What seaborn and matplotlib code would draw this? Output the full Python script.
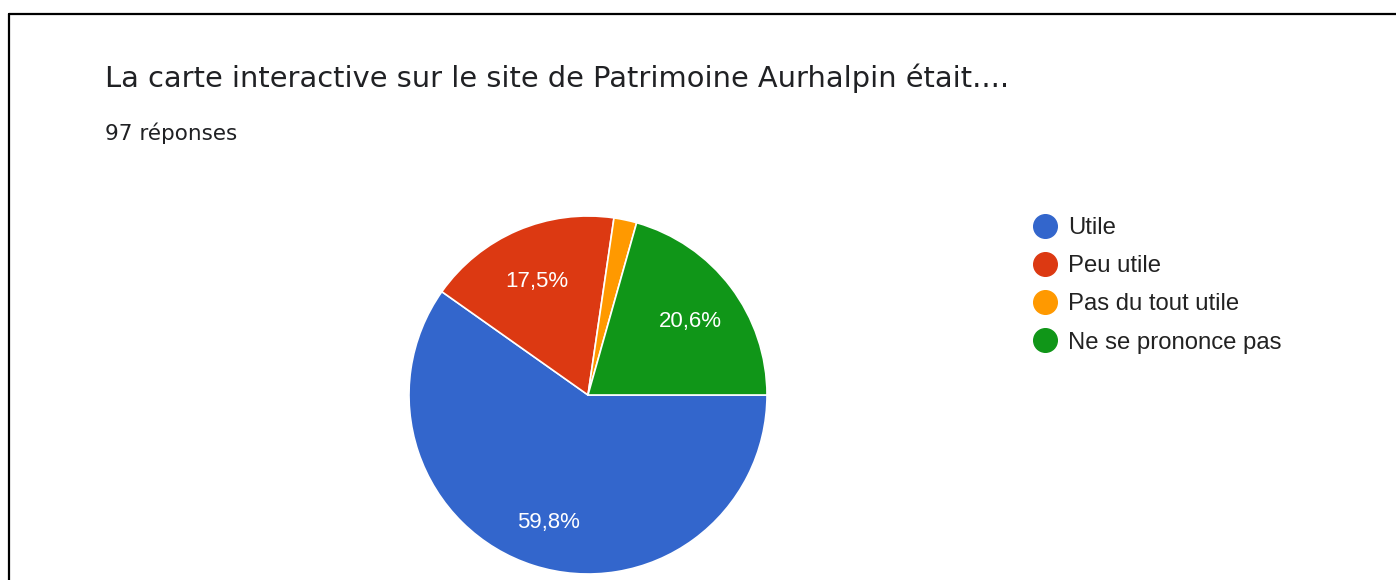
import matplotlib
matplotlib.use("Agg")
import matplotlib.pyplot as plt
from matplotlib.lines import Line2D
import seaborn as sns

# data (97 responses)
labels = ['Utile', 'Peu utile', 'Pas du tout utile', 'Ne se prononce pas']
counts = [58, 17, 2, 20]
colors = ['#3366CC', '#DC3912', '#FF9900', '#109618']
title = 'La carte interactive sur le site de Patrimoine Aurhalpin était....'
subtitle = '97 réponses'

sns.set_theme(style='white')
plt.rcParams['font.family'] = ['Liberation Sans', 'DejaVu Sans']

W, H = 1396, 580
fig = plt.figure(figsize=(W / 100, H / 100), dpi=100)
fig.patch.set_facecolor('white')

# pie: centre (588, 395) px, radius 179 px
cx, cy, r = 588, 395, 179
ax = fig.add_axes([(cx - r) / W, (H - cy - r) / H, 2 * r / W, 2 * r / H])


def pct_fmt(p):
    if p < 5:
        return ''
    return f'{p:.1f}%'.replace('.', ',')


wedges, texts, autotexts = ax.pie(
    counts, colors=colors, startangle=0, counterclock=False,
    autopct=pct_fmt, pctdistance=0.72,
    wedgeprops=dict(edgecolor='white', linewidth=1.2),
    textprops=dict(color='white', fontsize=16),
)
# google draws the slice labels a few px lower
for t in autotexts:
    x, y = t.get_position()
    t.set_position((x, y - 0.025))
ax.set_xlim(-1, 1)
ax.set_ylim(-1, 1)
ax.axis('off')

# title and count
fig.text(105 / W, 1 - 87 / H, title, fontsize=20.8, color='#202124',
         family='DejaVu Sans', va='baseline', ha='left')
fig.text(105 / W, 1 - 140 / H, subtitle, fontsize=15.5, color='#202124',
         family='DejaVu Sans', va='baseline', ha='left')

# legend
handles = [Line2D([0], [0], marker='o', linestyle='none', markersize=17,
                  markerfacecolor=c, markeredgecolor=c) for c in colors]
fig.legend(handles, labels, loc='upper left',
           bbox_to_anchor=(1033 / W, 1 - 217 / H), bbox_transform=fig.transFigure,
           frameon=False, fontsize=17.2, labelspacing=0.68, handlelength=1.0,
           handletextpad=0.45, borderpad=0, borderaxespad=0,
           labelcolor='#222222')

# screenshot border (top and left edges)
fig.add_artist(Line2D([8.5 / W, 1], [1 - 13.5 / H, 1 - 13.5 / H],
                      transform=fig.transFigure, color='black', linewidth=1.6))
fig.add_artist(Line2D([8.5 / W, 8.5 / W], [0, 1 - 13.5 / H],
                      transform=fig.transFigure, color='black', linewidth=1.6))

fig.savefig('out.png', dpi=100, facecolor='white')
